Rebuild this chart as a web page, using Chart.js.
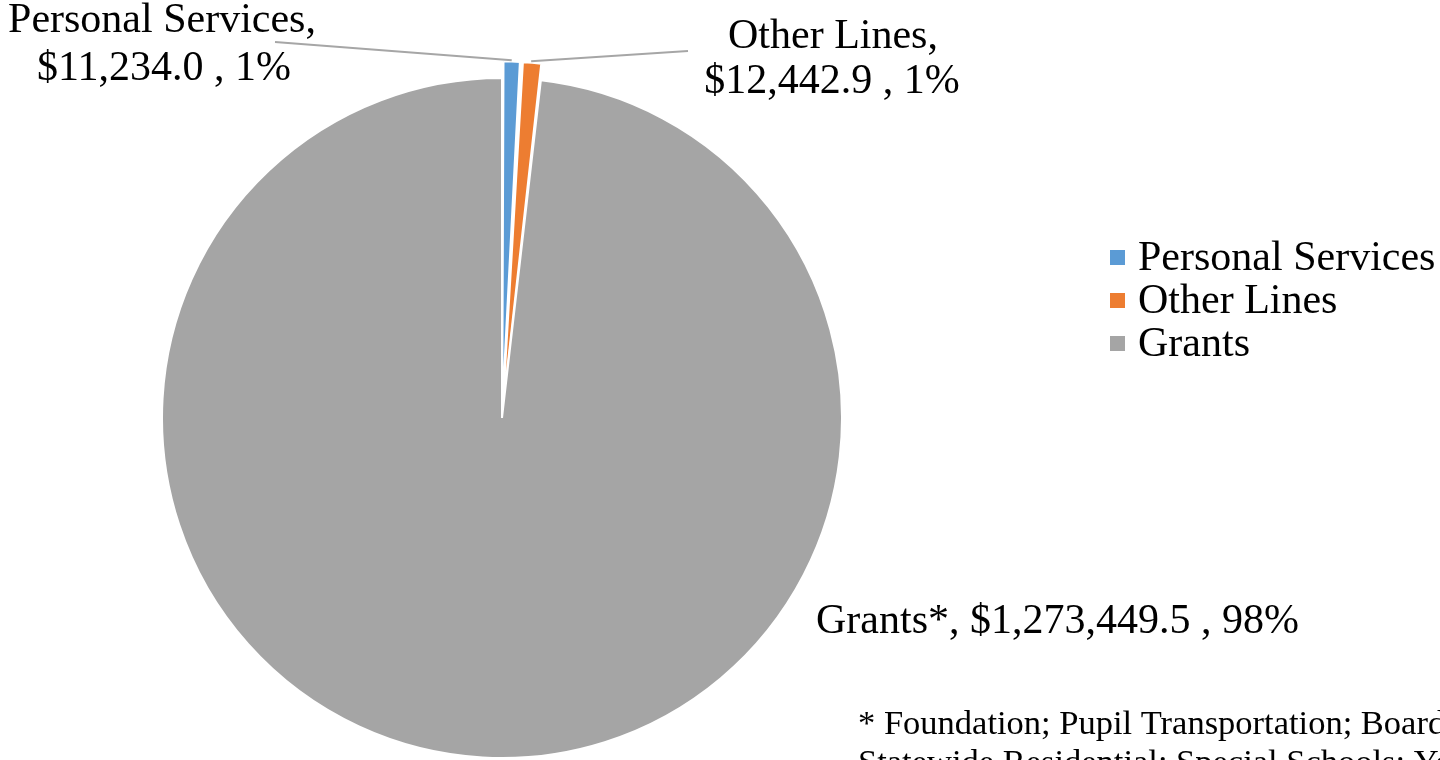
<!DOCTYPE html>
<html>
<head>
<meta charset="utf-8">
<script src="https://cdn.jsdelivr.net/npm/chart.js@4/dist/chart.umd.min.js"></script>
<style>
  html, body { margin: 0; padding: 0; background: #fff; }
  #wrap { width: 1440px; height: 760px; position: relative; }
</style>
</head>
<body>
<div id="wrap"><canvas id="report1"></canvas></div>
<script>
// data (thousands of dollars)
const categories = ['Personal Services', 'Other Lines', 'Grants'];
const labelNames = ['Personal Services', 'Other Lines', 'Grants*'];
const amounts = [11234.0, 12442.9, 1273449.5];
const colors = ['#5b9bd5', '#ed7d31', '#a5a5a5'];
const footnote = ['* Foundation; Pupil Transportation; Board', 'Statewide Residential; Special Schools; Yo'];

const FONT = '"Liberation Serif", "Times New Roman", serif';

function fmtMoney(v) {
  return '$' + v.toLocaleString('en-US', { minimumFractionDigits: 1, maximumFractionDigits: 1 });
}

const labelsPlugin = {
  id: 'sliceLabels',
  afterDraw(chart) {
    const ctx = chart.ctx;
    const meta = chart.getDatasetMeta(0);
    const total = amounts.reduce((a, b) => a + b, 0);
    const pct = i => Math.round(amounts[i] / total * 100) + '%';

    // outer tip of an (exploded) slice; chart.js moves it by about offset/2
    function tip(i) {
      const arc = meta.data[i];
      const mid = (arc.startAngle + arc.endAngle) / 2;
      const r = arc.outerRadius + (arc.options.offset || 0) / 2;
      return { x: arc.x + Math.cos(mid) * r, y: arc.y + Math.sin(mid) * r };
    }

    ctx.save();
    // leader lines
    ctx.strokeStyle = '#a6a6a6';
    ctx.lineWidth = 2;
    let p = tip(0);
    ctx.beginPath(); ctx.moveTo(275, 42); ctx.lineTo(p.x, p.y - 1); ctx.stroke();
    p = tip(1);
    ctx.beginPath(); ctx.moveTo(688, 51); ctx.lineTo(p.x - 1, p.y - 1); ctx.stroke();

    ctx.fillStyle = '#000';
    ctx.font = '42px ' + FONT;
    ctx.textBaseline = 'alphabetic';
    ctx.textAlign = 'center';
    ctx.fillText(labelNames[0] + ',', 162, 32);
    ctx.fillText(fmtMoney(amounts[0]) + ' , ' + pct(0), 164, 80);
    ctx.fillText(labelNames[1] + ',', 833, 48);
    ctx.fillText(fmtMoney(amounts[1]) + ' , ' + pct(1), 832, 93);
    ctx.textAlign = 'left';
    ctx.fillText(labelNames[2] + ', ' + fmtMoney(amounts[2]) + ' , ' + pct(2), 816, 633);

    // legend
    categories.forEach((c, i) => {
      const base = 270 + i * 43;
      ctx.fillStyle = colors[i];
      ctx.fillRect(1110, base - 20, 15, 15);
      ctx.fillStyle = '#000';
      ctx.fillText(c, 1138, base);
    });

    // footnote
    ctx.font = '34.5px ' + FONT;
    ctx.fillText(footnote[0], 858, 734);
    ctx.fillText(footnote[1], 858, 773);
    ctx.restore();
  }
};

const ctx = document.getElementById('report1');

new Chart(ctx, {
  type: 'pie',
  data: {
    labels: categories,
    datasets: [{
      data: amounts,
      backgroundColor: colors,
      borderColor: '#ffffff',
      borderWidth: 2,
      offset: [34, 34, 0]
    }]
  },
  options: {
    responsive: true,
    maintainAspectRatio: false,
    animation: false,
    radius: 340,
    layout: { padding: { left: 0, right: 436, top: 76, bottom: 0 } },
    plugins: {
      legend: { display: false },
      tooltip: { enabled: false }
    }
  },
  plugins: [labelsPlugin]
});
</script>
</body>
</html>
